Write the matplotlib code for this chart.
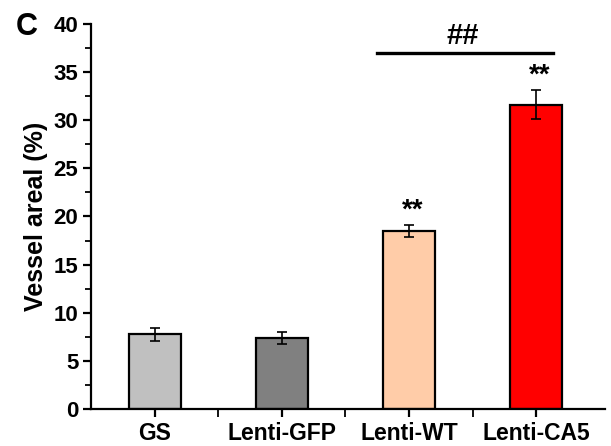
import matplotlib
matplotlib.use("Agg")
import matplotlib.pyplot as plt
from matplotlib.ticker import MultipleLocator, FixedLocator

plt.rcParams['font.family'] = ['Liberation Sans', 'DejaVu Sans']
plt.rcParams['font.weight'] = 'bold'

categories = ["GS", "Lenti-GFP", "Lenti-WT", "Lenti-CA5"]
values = [7.75, 7.4, 18.5, 31.6]
errors = [0.65, 0.64, 0.6, 1.5]
colors = ["#c0c0c0", "#808080", "#ffcca8", "#ff0000"]
stars = ["", "", "**", "**"]
yticks = [0, 5, 10, 15, 20, 25, 30, 35, 40]

fig = plt.figure(figsize=(6.11, 4.46), dpi=100)
ax = fig.add_axes([91/611, 1-409/446, (605-91)/611, (409-24)/446])

x = list(range(len(categories)))
ax.bar(x, values, width=0.41, color=colors, edgecolor="black", linewidth=1.6, zorder=2)
ax.errorbar(x, values, yerr=errors, fmt="none", ecolor="black", elinewidth=1.2,
            capsize=3.5, capthick=1.2, zorder=3)

for xi, v, e, s in zip(x, values, errors, stars):
    if s:
        ax.text(xi + 0.03, v + e + 0.2, s, ha="center", va="bottom", fontsize=20, fontweight="bold")

ax.plot([1.75, 3.13], [37.0, 37.0], color="black", linewidth=2.4, clip_on=False)
ax.text(2.42, 37.3, "##", ha="center", va="bottom", fontsize=21, fontweight="bold")

ax.set_xlim(-0.5, 3.54)
ax.set_ylim(0, 40)
ax.set_xticks(x)
ax.set_xticklabels(categories, fontsize=16.5, fontweight="bold")
ax.xaxis.set_minor_locator(FixedLocator([0.5, 1.5, 2.5]))
ax.set_yticks(yticks)
ax.set_yticklabels([str(t) for t in yticks], fontsize=16, fontweight="bold")
ax.yaxis.set_minor_locator(MultipleLocator(2.5))

ax.spines["top"].set_visible(False)
ax.spines["right"].set_visible(False)
for sp in ["left", "bottom"]:
    ax.spines[sp].set_linewidth(1.6)
ax.tick_params(axis="both", which="major", direction="out", length=6, width=1.6, pad=3)
ax.tick_params(axis="both", which="minor", direction="out", length=4, width=1.3)
ax.tick_params(axis="x", which="minor", length=6)

ax.set_ylabel("Vessel areal (%)", fontsize=18, fontweight="bold", labelpad=4)
fig.text(0.026, 1 - 27/446, "C", fontsize=22, fontweight="bold", ha="left", va="center")

fig.savefig("out.png", dpi=100)
